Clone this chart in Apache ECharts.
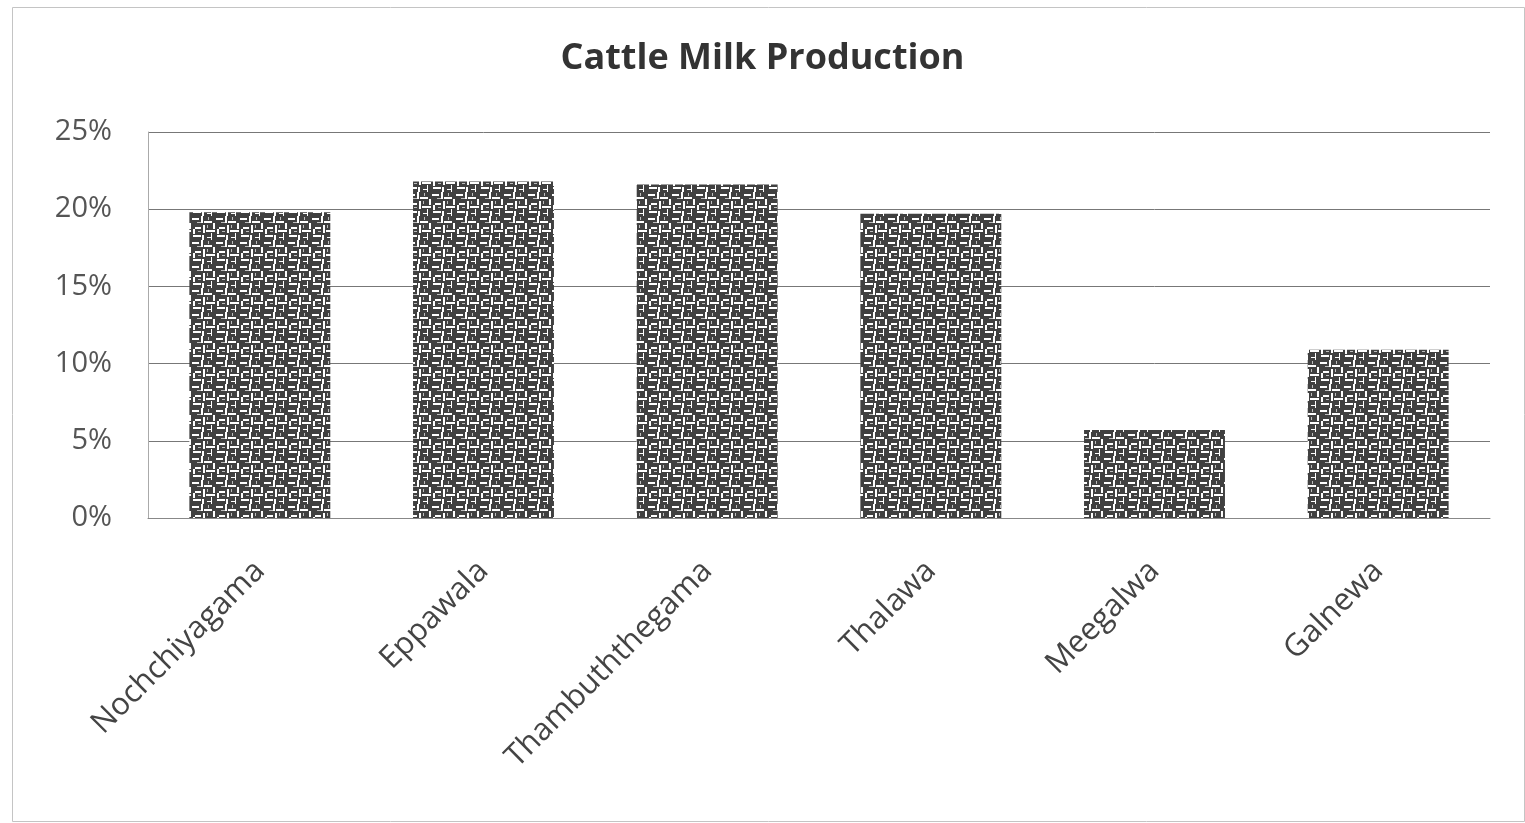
<!DOCTYPE html>
<html>
<head>
<meta charset="utf-8">
<script src="https://cdn.jsdelivr.net/npm/echarts@6/dist/echarts.min.js"></script>
<style>html,body{margin:0;padding:0;background:#fff}#c{width:1525px;height:823px}</style>
</head>
<body>
<div id="c"></div>
<script>
const categories = ['Nochchiyagama', 'Eppawala', 'Thambuththegama', 'Thalawa', 'Meegalwa', 'Galnewa'];
const values = [19.8, 21.8, 21.6, 19.7, 5.7, 10.9];
const yTicks = [0, 5, 10, 15, 20, 25];

function makePattern() {
  const c = document.createElement('canvas');
  c.width = 24; c.height = 24;
  const g = c.getContext('2d');
  g.fillStyle = '#404040';
  g.fillRect(0, 0, 24, 24);
  g.fillStyle = '#ffffff';
  // horizontal breaks
  g.fillRect(0, 2, 7, 2);
  g.fillRect(12, 5, 8, 2);
  g.fillRect(3, 11, 6, 2);
  g.fillRect(14, 14, 9, 2);
  g.fillRect(1, 19, 8, 2);
  g.fillRect(15, 21, 5, 1);
  // vertical breaks
  g.fillRect(9, 0, 2, 7);
  g.fillRect(21, 7, 2, 6);
  g.fillRect(11, 9, 2, 8);
  g.fillRect(1, 13, 2, 5);
  g.fillRect(19, 17, 1, 7);
  g.fillRect(10, 19, 2, 5);
  g.fillStyle = '#bdbdbd';
  g.fillRect(5, 6, 4, 1);
  g.fillRect(16, 1, 1, 3);
  g.fillRect(6, 15, 3, 1);
  g.fillRect(15, 9, 1, 3);
  return c;
}

const chart = echarts.init(document.getElementById('c'));
chart.setOption({
  backgroundColor: '#ffffff',
  animation: false,
  graphic: [{
    type: 'rect', left: 10, top: 5,
    shape: { width: 1512, height: 814 },
    style: { fill: 'none', stroke: '#c4c4c4', lineWidth: 1 }
  }],
  title: {
    text: 'Cattle Milk Production',
    left: 'center', top: 36,
    textStyle: { fontFamily: 'Open Sans', fontWeight: 'bold', fontSize: 36, color: '#333' }
  },
  grid: { left: 148, right: 35, top: 132, bottom: 305 },
  xAxis: {
    type: 'category',
    data: categories,
    axisLine: { show: true, lineStyle: { color: '#888', width: 1 } },
    axisTick: { show: false },
    axisLabel: {
      rotate: 45, interval: 0, margin: 48,
      fontFamily: 'Open Sans', fontSize: 31, color: '#444'
    }
  },
  yAxis: {
    type: 'value',
    min: 0, max: 25, interval: 5,
    axisLine: { show: true, lineStyle: { color: '#aaa', width: 1 } },
    axisTick: { show: false },
    splitLine: { lineStyle: { color: '#777', width: 1 } },
    axisLabel: {
      margin: 36, fontFamily: 'Open Sans', fontSize: 29, color: '#555',
      formatter: v => yTicks.includes(v) ? v + '%' : ''
    }
  },
  series: [{
    type: 'bar',
    data: values,
    barWidth: '63%',
    itemStyle: { color: { image: makePattern(), repeat: 'repeat' } }
  }]
});
</script>
</body>
</html>
